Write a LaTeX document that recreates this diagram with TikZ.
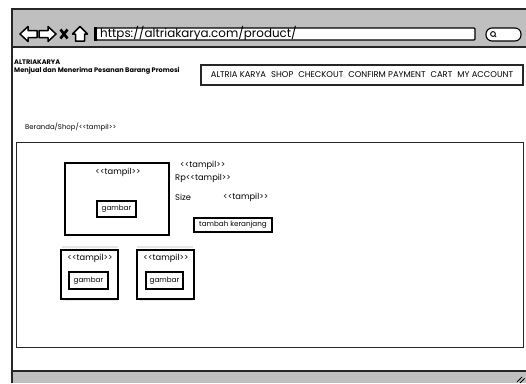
\documentclass[tikz,border=0pt]{standalone}
\usepackage{fontspec}
\setmainfont{Poppins}
\begin{document}
\begin{tikzpicture}[x=1pt,y=-1pt,
  frame/.style={draw=black!85, line width=1.2pt},
  imgbox/.style={draw=black, line width=1.6pt, inner sep=0pt},
  lbl/.style={inner sep=0pt, font=\fontsize{8.3}{9}\selectfont},
  btn/.style={imgbox, font=\fontsize{7.2}{8}\selectfont},
  tiny/.style={inner sep=0pt, font=\fontsize{6.6}{7}\bfseries\selectfont},
  ghost/.style={draw=black!10, line width=1.4pt},
  icon/.style={draw=black, line width=1.5pt, fill=white, line join=round}]
\useasboundingbox (0,0) rectangle (526,383);
% window
\fill[fill=white] (12,9) rectangle (527,383);
\fill[fill=black!25] (12,9) rectangle (527,47);
\fill[fill=black!25] (12,371) rectangle (527,383);
\draw[frame] (12,383) -- (12,9) -- (527,9);
\draw[frame] (12,47) -- (527,47);
\draw[frame] (12,371) -- (527,371);
% icons
\draw[icon] (20,34) -- (28,26.5) -- (28,30.5) -- (37,30.5) -- (37,37.5) -- (28,37.5) -- (28,41.5) -- cycle;
\draw[icon] (56,34) -- (48,26.5) -- (48,30.5) -- (39,30.5) -- (39,37.5) -- (48,37.5) -- (48,41.5) -- cycle;
\draw[line width=2.6pt] (60.5,29.5) -- (67.5,38.5) (67.5,29.5) -- (60.5,38.5);
\draw[icon] (80,26.5) -- (72.5,34) -- (75.5,34) -- (75.5,41) -- (84.5,41) -- (84.5,34) -- (87.5,34) -- cycle;
% url
\node[draw=black, line width=1.1pt, fill=white, rounded corners=1pt, minimum width=379pt, minimum height=12pt, inner sep=0pt] (url) at (285.5,34) {};
\draw[line width=2.4pt] (url.north west) -- (url.south west);
\node[inner sep=0pt, anchor=west, font=\fontsize{11.9}{12}\selectfont] (urltext) at (100,33.5) {https://altriakarya.com/product/};
\node[draw=black, line width=1.1pt, fill=white, rounded corners=6pt, minimum width=35pt, minimum height=13pt] (search) at (503.5,34.5) {};
\draw[line width=0.9pt] (493,34) circle (2.4pt);
\draw[line width=0.9pt] (494.6,35.6) -- (496.2,36.8);
% header
\node[tiny, anchor=west] (brand) at (14,62) {ALTRIAKARYA};
\node[tiny, anchor=west] (tag) at (14,70.5) {Menjual dan Menerima Pesanan Barang Promosi};
\node[frame, minimum width=322pt, minimum height=20pt, inner sep=0pt, font=\fontsize{8.4}{9}\selectfont] (nav) at (362,75) {ALTRIA KARYA\hspace{5pt}SHOP\hspace{5pt}CHECKOUT\hspace{5pt}CONFIRM PAYMENT\hspace{5pt}CART\hspace{5pt}MY ACCOUNT};
\node[inner sep=0pt, anchor=west, font=\fontsize{6.9}{8}\selectfont] (crumb) at (25,127) {Beranda/Shop/<{}<tampil>{}>};
% content
\node[frame, minimum width=507pt, minimum height=205pt, anchor=north west] (content) at (16,142) {};
% main image
\node[imgbox, minimum width=104pt, minimum height=72pt] (img) at (117,199) {};
\node[lbl] (imgt) at (118,172) {<{}<tampil>{}>};
\node[btn, minimum width=39pt, minimum height=16pt] (g1) at (116.5,209) {gambar};
\node[lbl, anchor=west] (name) at (180,165) {<{}<tampil>{}>};
\node[lbl, anchor=west] (price) at (175,178) {Rp<{}<tampil>{}>};
\node[lbl, anchor=west] (size) at (175,197) {Size};
\node[lbl, anchor=west] (sizev) at (223,197) {<{}<tampil>{}>};
\node[btn, minimum width=78pt, minimum height=14pt] (cart) at (233,225) {tambah keranjang};
% thumbnails
\draw[ghost] (62,247) -- (118,247) (137,247) -- (193,247);
\draw[ghost] (65,300.5) -- (118,300.5) (140,300.5) -- (192,300.5);
\node[imgbox, minimum width=57pt, minimum height=49pt] (t1) at (89.5,274.5) {};
\node[lbl] (t1t) at (90,258) {<{}<tampil>{}>};
\node[btn, minimum width=39pt, minimum height=17pt] (g2) at (88.5,280.5) {gambar};
\node[imgbox, minimum width=57pt, minimum height=49pt] (t2) at (165.5,274.5) {};
\node[lbl] (t2t) at (166,258) {<{}<tampil>{}>};
\node[btn, minimum width=37pt, minimum height=17pt] (g3) at (164.5,280.5) {gambar};
% resize grip
\draw[line width=1pt] (517,382) -- (522,377) (520,383) -- (524.5,378.5);
\end{tikzpicture}
\end{document}
